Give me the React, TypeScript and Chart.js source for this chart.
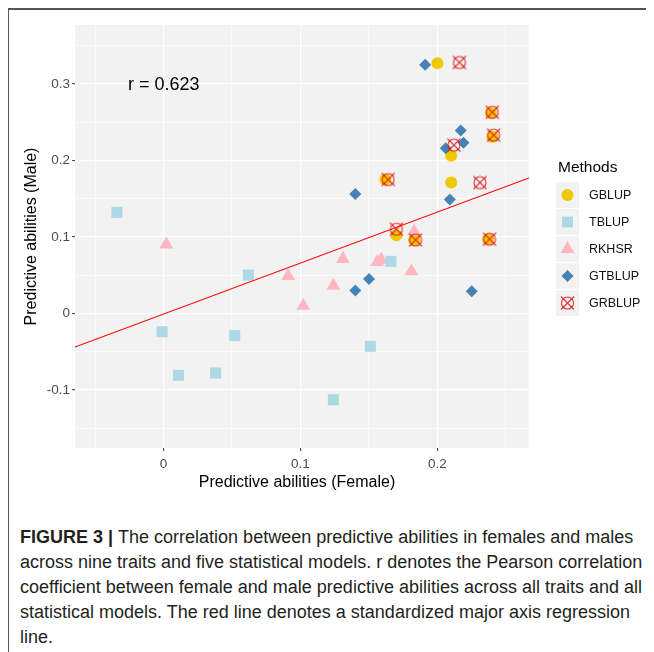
import React, { useEffect, useRef } from 'react';
import { Chart, registerables } from 'chart.js';
Chart.register(...registerables);

// Data
const gblupX = [0.200, 0.239, 0.240, 0.210, 0.162, 0.210, 0.170, 0.183, 0.237];
const gblupY = [0.327, 0.262, 0.231, 0.206, 0.175, 0.171, 0.102, 0.096, 0.097];
const tblupX = [-0.034, -0.001, 0.011, 0.038, 0.052, 0.062, 0.124, 0.151, 0.166];
const tblupY = [0.132, -0.024, -0.081, -0.078, -0.029, 0.050, -0.113, -0.043, 0.068];
const rkhsrX = [0.002, 0.091, 0.102, 0.124, 0.131, 0.156, 0.159, 0.181, 0.183];
const rkhsrY = [0.090, 0.049, 0.010, 0.036, 0.071, 0.067, 0.070, 0.055, 0.107];
const gtblupX = [0.191, 0.217, 0.219, 0.206, 0.140, 0.209, 0.150, 0.140, 0.225];
const gtblupY = [0.325, 0.239, 0.223, 0.216, 0.156, 0.149, 0.045, 0.030, 0.029];
const grblupX = [0.216, 0.240, 0.241, 0.212, 0.164, 0.231, 0.170, 0.184, 0.238];
const grblupY = [0.328, 0.263, 0.233, 0.220, 0.175, 0.171, 0.110, 0.096, 0.097];
const lineX = [-0.0646, 0.2668];
const lineY = [-0.044, 0.177];

const xTicks = [-0.05, 0, 0.05, 0.1, 0.15, 0.2, 0.25];
const yTicks = [-0.15, -0.1, -0.05, 0, 0.05, 0.1, 0.15, 0.2, 0.25, 0.3, 0.35];
const methods = ['GBLUP', 'TBLUP', 'RKHSR', 'GTBLUP', 'GRBLUP'];
const rLabel = 'r = 0.623';
const xTitle = 'Predictive abilities (Female)';
const yTitle = 'Predictive abilities (Male)';

const C_GB = '#EEC900';
const C_TB = '#ADD8E6';
const C_RK = '#FFB6C1';
const C_GT = '#4682B4';
const C_GR = 'rgba(220,20,20,0.85)';
const PANEL = '#F2F2F2';
const FONT = "'Liberation Sans', Arial, sans-serif";

const pts = (xs: number[], ys: number[]) => xs.map((x, i) => ({ x, y: ys[i] }));
const isMajor = (v: number) => Math.abs(v * 10 - Math.round(v * 10)) < 1e-6;
const fmt = (v: number) => String(Math.round(v * 10) / 10);

function drawGR(ctx: CanvasRenderingContext2D, cx: number, cy: number) {
  ctx.save();
  ctx.strokeStyle = C_GR;
  ctx.lineWidth = 1.1;
  ctx.beginPath();
  ctx.arc(cx, cy, 6, 0, Math.PI * 2);
  ctx.stroke();
  ctx.beginPath();
  ctx.moveTo(cx - 6.5, cy - 6.5);
  ctx.lineTo(cx + 6.5, cy + 6.5);
  ctx.moveTo(cx + 6.5, cy - 6.5);
  ctx.lineTo(cx - 6.5, cy + 6.5);
  ctx.stroke();
  ctx.restore();
}

function makeGRImage() {
  const c = document.createElement('canvas');
  c.width = 16;
  c.height = 16;
  const ctx = c.getContext('2d')!;
  drawGR(ctx, 8, 8);
  return c;
}

const panelPlugin = {
  id: 'panelBg',
  beforeDraw(chart: any) {
    const { ctx, chartArea: a } = chart;
    ctx.save();
    ctx.fillStyle = PANEL;
    ctx.fillRect(a.left, a.top, a.right - a.left, a.bottom - a.top);
    ctx.restore();
  },
};

const annPlugin = {
  id: 'annotations',
  afterDraw(chart: any) {
    const { ctx, chartArea: a } = chart;
    ctx.save();
    // r label
    ctx.fillStyle = '#000';
    ctx.font = `18px ${FONT}`;
    ctx.textAlign = 'left';
    ctx.textBaseline = 'middle';
    ctx.fillText(rLabel, 118, 75);
    // axis titles
    ctx.font = `16px ${FONT}`;
    ctx.textAlign = 'center';
    ctx.fillText(xTitle, (a.left + a.right) / 2 - 5, 473);
    ctx.save();
    ctx.translate(22, (a.top + a.bottom) / 2);
    ctx.rotate(-Math.PI / 2);
    ctx.fillText(yTitle, 0, 0);
    ctx.restore();
    // legend
    ctx.textAlign = 'left';
    ctx.font = `15.5px ${FONT}`;
    ctx.fillText('Methods', 548, 158);
    const kx = 546, kw = 23, kh = 26;
    methods.forEach((m, i) => {
      const cy = 185 + i * 27;
      ctx.fillStyle = PANEL;
      ctx.fillRect(kx, cy - kh / 2, kw, kh);
      const cx = kx + kw / 2;
      if (i === 0) {
        ctx.fillStyle = C_GB;
        ctx.beginPath();
        ctx.arc(cx, cy, 6, 0, Math.PI * 2);
        ctx.fill();
      } else if (i === 1) {
        ctx.fillStyle = C_TB;
        ctx.fillRect(cx - 5.5, cy - 5.5, 11, 11);
      } else if (i === 2) {
        ctx.fillStyle = C_RK;
        const r = 8;
        ctx.beginPath();
        ctx.moveTo(cx, cy - r);
        ctx.lineTo(cx + r * 0.866, cy + r / 2);
        ctx.lineTo(cx - r * 0.866, cy + r / 2);
        ctx.closePath();
        ctx.fill();
      } else if (i === 3) {
        ctx.fillStyle = C_GT;
        const r = 6;
        ctx.beginPath();
        ctx.moveTo(cx, cy - r);
        ctx.lineTo(cx + r, cy);
        ctx.lineTo(cx, cy + r);
        ctx.lineTo(cx - r, cy);
        ctx.closePath();
        ctx.fill();
      } else {
        drawGR(ctx, cx, cy);
      }
      ctx.fillStyle = '#111';
      ctx.font = `12.5px ${FONT}`;
      ctx.textBaseline = 'middle';
      ctx.fillText(m, 579, cy + 0.5);
    });
    ctx.restore();
  },
};

function ChartView() {
  const ref = useRef<HTMLCanvasElement>(null);
  useEffect(() => {
    if (!ref.current) return;
    const grImg = makeGRImage();
    const tickFont = { family: FONT, size: 13.5 };
    const gridCfg = {
      color: '#FFFFFF',
      lineWidth: (c: any) => (c.tick && isMajor(c.tick.value) ? 1.3 : 0.6),
      tickColor: (c: any) => (c.tick && isMajor(c.tick.value) ? '#333333' : 'rgba(0,0,0,0)'),
      tickLength: 3,
      tickWidth: 1,
      drawTicks: true,
    };
    const chart = new Chart(ref.current, {
      type: 'scatter',
      data: {
        datasets: [
          {
            label: 'line',
            data: pts(lineX, lineY),
            showLine: true,
            borderColor: '#FF0000',
            borderWidth: 1.1,
            pointRadius: 0,
            order: 0,
          } as any,
          {
            label: methods[4],
            data: pts(grblupX, grblupY),
            pointStyle: grImg,
            pointRadius: 8,
            order: 1,
          },
          {
            label: methods[3],
            data: pts(gtblupX, gtblupY),
            pointStyle: 'rectRot',
            pointRadius: 6,
            backgroundColor: C_GT,
            borderWidth: 0,
            order: 2,
          },
          {
            label: methods[2],
            data: pts(rkhsrX, rkhsrY),
            pointStyle: 'triangle',
            pointRadius: 8,
            backgroundColor: C_RK,
            borderWidth: 0,
            order: 4,
          },
          {
            label: methods[1],
            data: pts(tblupX, tblupY),
            pointStyle: 'rect',
            pointRadius: 7.8,
            backgroundColor: C_TB,
            borderWidth: 0,
            order: 3,
          },
          {
            label: methods[0],
            data: pts(gblupX, gblupY),
            pointStyle: 'circle',
            pointRadius: 6,
            backgroundColor: C_GB,
            borderWidth: 0,
            order: 5,
          },
        ],
      },
      options: {
        animation: false,
        responsive: false,
        maintainAspectRatio: false,
        layout: { padding: { left: 0, top: 15, right: 125, bottom: 0 } },
        plugins: { legend: { display: false }, tooltip: { enabled: false } },
        scales: {
          x: {
            type: 'linear',
            min: -0.0646,
            max: 0.2668,
            afterBuildTicks: (s: any) => {
              s.ticks = xTicks.map((v) => ({ value: v }));
            },
            afterFit: (s: any) => {
              s.height = 52;
            },
            ticks: {
              autoSkip: false,
              maxRotation: 0,
              padding: 5,
              color: '#4D4D4D',
              font: tickFont,
              callback: (v: any) => (isMajor(Number(v)) ? fmt(Number(v)) : ''),
            },
            grid: gridCfg as any,
            border: { display: false },
          },
          y: {
            type: 'linear',
            min: -0.176,
            max: 0.377,
            afterBuildTicks: (s: any) => {
              s.ticks = yTicks.map((v) => ({ value: v }));
            },
            afterFit: (s: any) => {
              s.width = 65;
            },
            ticks: {
              autoSkip: false,
              padding: 2,
              color: '#4D4D4D',
              font: tickFont,
              callback: (v: any) => (isMajor(Number(v)) ? fmt(Number(v)) : ''),
            },
            grid: gridCfg as any,
            border: { display: false },
          },
        },
      },
      plugins: [panelPlugin, annPlugin],
    });
    return () => chart.destroy();
  }, []);
  return (
    <canvas
      ref={ref}
      width={644}
      height={490}
      style={{ position: 'absolute', left: 1, top: 0, width: 644, height: 490 }}
    />
  );
}

const captionLines = [
  ['FIGURE 3 | ', 'The correlation between predictive abilities in females and males'],
  ['', 'across nine traits and five statistical models. r denotes the Pearson correlation'],
  ['', 'coefficient between female and male predictive abilities across all traits and all'],
  ['', 'statistical models. The red line denotes a standardized major axis regression'],
  ['', 'line.'],
];

export default function App() {
  return (
    <div
      style={{
        position: 'relative',
        width: 647,
        height: 644,
        marginLeft: -1,
        borderLeft: '2px solid #555',
        borderTop: '2px solid #555',
        boxSizing: 'border-box',
        background: '#fff',
        overflow: 'hidden',
      }}
    >
      <ChartView />
      <div
        style={{
          position: 'absolute',
          left: 11,
          top: 514.5,
          fontFamily: FONT,
          fontSize: 18,
          lineHeight: '25px',
          color: '#231F20',
          whiteSpace: 'nowrap',
        }}
      >
        {captionLines.map((l, i) => (
          <div key={i}>
            {l[0] ? <b>{l[0]}</b> : null}
            {l[1]}
          </div>
        ))}
      </div>
    </div>
  );
}
